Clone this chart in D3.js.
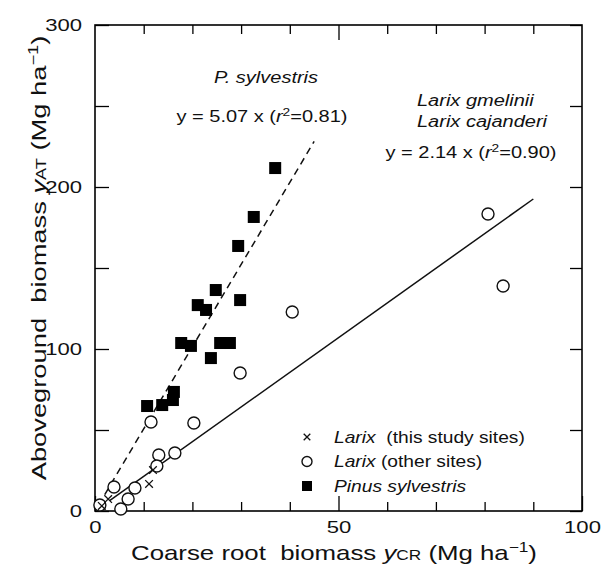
<!DOCTYPE html>
<html>
<head>
<meta charset="utf-8">
<script src="https://cdn.jsdelivr.net/npm/d3@7"></script>
<style>
  body { margin: 0; background: #fff; }
  svg { font-family: "Liberation Sans", Arial, sans-serif; }
</style>
</head>
<body>
<svg id="chart" width="603" height="570"></svg>
<script>
// Pinus sylvestris (filled squares)
const pinus = [
  [37.0, 211.7], [32.6, 181.5], [29.4, 163.6], [24.8, 136.4], [29.8, 130.2],
  [21.1, 127.1], [22.8, 124.1], [17.7, 103.7], [19.7, 101.9], [25.7, 103.7],
  [27.7, 103.7], [23.8, 94.4], [10.7, 64.8], [13.8, 65.4], [16.0, 68.5], [16.2, 73.5]
];
// Larix, other sites (open circles)
const larixOther = [
  [80.7, 183.3], [83.8, 138.9], [40.5, 122.8], [29.8, 85.2], [11.5, 54.9],
  [20.3, 54.3], [13.1, 34.6], [16.4, 35.8], [12.7, 27.8], [3.9, 14.8],
  [8.2, 14.2], [6.8, 7.4], [5.3, 1.2], [1.0, 3.7]
];
// Larix, this study sites (crosses)
const larixStudy = [[11.1, 16.7], [11.9, 25.3], [2.7, 7.4], [1.4, 3.1]];

// regression lines: slope and x extent
const pineFit = { slope: 5.07, xs: [2, 45] };
const larixFit = { slope: 2.14, xs: [3, 90] };

const xLabelTicks = [0, 50, 100];
const xMinorTicks = [10, 20, 30, 40, 60, 70, 80, 90];
const yLabelTicks = [0, 100, 200, 300];
const yMinorTicks = [50, 150, 250];

const svg = d3.select("#chart");

var x = d3.scaleLinear().domain([0, 100]).range([95, 582]);
var y = d3.scaleLinear().domain([0, 300]).range([511, 25]);

// the source lettering is wider than Arial, so stretch text horizontally
const SX = 1.25;
const stretched = (parent, px, py, size, anchor, sx) =>
  parent.append("text")
    .attr("transform", `translate(${px},${py}) scale(${sx || SX},1)`)
    .attr("font-size", size).attr("fill", "#111")
    .attr("text-anchor", anchor || "start")
    .attr("xml:space", "preserve");

// minor ticks, inward
svg.append("g").attr("transform", "translate(0,511)")
  .call(d3.axisBottom(x).tickValues(xMinorTicks).tickSize(-9).tickFormat(""));
svg.append("g").attr("transform", "translate(0,25)")
  .call(d3.axisTop(x).tickValues(xMinorTicks).tickSize(-9).tickFormat(""));
svg.append("g").attr("transform", "translate(0,25)")
  .call(d3.axisTop(x).tickValues([50]).tickSize(-15).tickFormat(""));
svg.append("g").attr("transform", "translate(95,0)")
  .call(d3.axisLeft(y).tickValues(yMinorTicks).tickSize(-14).tickFormat(""));
svg.append("g").attr("transform", "translate(582,0)")
  .call(d3.axisRight(y).tickValues(yMinorTicks.concat(yLabelTicks)).tickSize(-12).tickFormat(""));

// labelled ticks
svg.append("g").attr("class", "lab").attr("transform", "translate(0,511)")
  .call(d3.axisBottom(x).tickValues(xLabelTicks).tickSize(-15).tickPadding(10));
svg.append("g").attr("class", "lab").attr("transform", "translate(95,0)")
  .call(d3.axisLeft(y).tickValues(yLabelTicks).tickSize(-14).tickPadding(10));

svg.selectAll(".domain").remove();
svg.selectAll(".tick line").attr("stroke", "#000").attr("stroke-width", 1.3);
svg.selectAll(".lab text")
  .attr("font-size", 17)
  .attr("font-family", "Liberation Sans, Arial, sans-serif")
  .attr("fill", "#111")
  .attr("transform", "scale(1.3,1)");

// frame
svg.append("rect")
  .attr("x", x(0)).attr("y", y(300))
  .attr("width", x(100) - x(0)).attr("height", y(0) - y(300))
  .attr("fill", "none").attr("stroke", "#000").attr("stroke-width", 1.6);

// fit lines
const line = d3.line().x(d => x(d[0])).y(d => y(d[1]));
svg.append("path")
  .datum(pineFit.xs.map(v => [v, v * pineFit.slope]))
  .attr("d", line).attr("stroke", "#111").attr("stroke-width", 1.5)
  .attr("stroke-dasharray", "7,5").attr("fill", "none");
svg.append("path")
  .datum(larixFit.xs.map(v => [v, v * larixFit.slope]))
  .attr("d", line).attr("stroke", "#111").attr("stroke-width", 1.5).attr("fill", "none");

// points
svg.append("g").selectAll("circle").data(larixOther).join("circle")
  .attr("cx", d => x(d[0])).attr("cy", d => y(d[1])).attr("r", 6)
  .attr("fill", "#fff").attr("stroke", "#111").attr("stroke-width", 1.4);

svg.append("g").selectAll("rect").data(pinus).join("rect")
  .attr("x", d => x(d[0]) - 6).attr("y", d => y(d[1]) - 6)
  .attr("width", 12).attr("height", 12).attr("fill", "#000");

const cross = d3.symbol().type(d3.symbolX).size(40);
svg.append("g").selectAll("path").data(larixStudy).join("path")
  .attr("transform", d => `translate(${x(d[0])},${y(d[1])})`)
  .attr("d", cross).attr("stroke", "#111").attr("stroke-width", 1.3).attr("fill", "none");

// annotations
const eq = (px, py, text) => {
  const t = stretched(svg, px, py, 16, "middle");
  t.append("tspan").text(text[0]);
  t.append("tspan").attr("font-style", "italic").text("r");
  t.append("tspan").attr("font-size", 11).attr("dy", -6).text("2");
  t.append("tspan").attr("dy", 6).text(text[1]);
};
stretched(svg, 266, 83, 16, "middle").attr("font-style", "italic").text("P. sylvestris");
eq(262, 122, ["y = 5.07 x (", "=0.81)"]);
stretched(svg, 417, 106, 16, "start").attr("font-style", "italic").text("Larix gmelinii");
stretched(svg, 417, 127, 16, "start").attr("font-style", "italic").text("Larix cajanderi");
eq(471, 158, ["y = 2.14 x (", "=0.90)"]);

// legend
const legendRows = [
  { type: "x", name: "Larix", rest: "  (this study sites)" },
  { type: "o", name: "Larix", rest: " (other sites)" },
  { type: "s", name: "Pinus sylvestris", rest: "" }
];
legendRows.forEach((r, i) => {
  const cy = 437 + i * 24.5;
  if (r.type === "x") {
    svg.append("path").attr("transform", `translate(307,${cy})`)
      .attr("d", d3.symbol().type(d3.symbolX).size(30))
      .attr("stroke", "#111").attr("stroke-width", 1.3).attr("fill", "none");
  } else if (r.type === "o") {
    svg.append("circle").attr("cx", 307).attr("cy", cy).attr("r", 5)
      .attr("fill", "#fff").attr("stroke", "#111").attr("stroke-width", 1.4);
  } else {
    svg.append("rect").attr("x", 302).attr("y", cy - 5).attr("width", 10).attr("height", 10).attr("fill", "#000");
  }
  const t = stretched(svg, 334, cy + 5.5, 16, "start", 1.2);
  t.append("tspan").attr("font-style", "italic").text(r.name);
  if (r.rest) t.append("tspan").text(r.rest);
});

// axis titles
const xt = stretched(svg, 334, 560, 21, "middle", 1.23);
xt.append("tspan").text("Coarse root  biomass ");
xt.append("tspan").attr("font-style", "italic").text("y");
xt.append("tspan").attr("font-size", 14).text("CR");
xt.append("tspan").text(" (Mg ha");
xt.append("tspan").attr("font-size", 14).attr("dy", -8).text("\u22121");
xt.append("tspan").attr("dy", 8).text(")");

const yt = svg.append("text")
  .attr("transform", "translate(46,258) rotate(-90) scale(1.3,1)")
  .attr("text-anchor", "middle").attr("font-size", 21).attr("fill", "#111")
  .attr("xml:space", "preserve");
yt.append("tspan").text("Aboveground  biomass ");
yt.append("tspan").attr("font-style", "italic").text("y");
yt.append("tspan").attr("font-size", 14).text("AT");
yt.append("tspan").text(" (Mg ha");
yt.append("tspan").attr("font-size", 14).attr("dy", -8).text("\u22121");
yt.append("tspan").attr("dy", 8).text(")");
</script>
</body>
</html>
